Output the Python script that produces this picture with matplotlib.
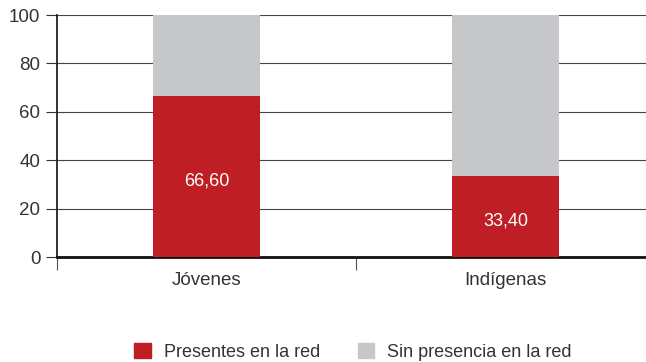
import matplotlib.pyplot as plt
import numpy as np
from matplotlib.patches import Patch

plt.rcParams["font.family"] = ["Liberation Sans", "DejaVu Sans"]

# data
categorias = ["Jóvenes", "Indígenas"]
presentes = [66.60, 33.40]
sin_presencia = [33.40, 66.60]
etiquetas = ["66,60", "33,40"]
series = ["Presentes en la red", "Sin presencia en la red"]

rojo = "#BE1E24"
gris = "#C6C7C9"
texto = "#333333"

fig = plt.figure(figsize=(6.46, 3.62), dpi=100)
ax = fig.add_axes([57 / 646, 105 / 362, 598 / 646, 242 / 362])

x = np.arange(len(categorias))
ancho = 0.36
ax.bar(x, presentes, ancho, color=rojo, zorder=3)
ax.bar(x, sin_presencia, ancho, bottom=presentes, color=gris, zorder=3)

# white value labels in the middle of the red part
for xi, v, lab in zip(x, presentes, etiquetas):
    ax.text(xi, v / 2 - 2, lab, ha="center", va="center", color="white", fontsize=13, zorder=4)

ax.set_xlim(-0.5, 1.5)
ax.set_ylim(0, 100)
ax.set_yticks([0, 20, 40, 60, 80, 100])
ax.yaxis.grid(True, color="#444444", lw=0.8)
ax.set_axisbelow(True)

ax.set_xticks(x)
ax.set_xticklabels(categorias)
ax.set_xticks([-0.5, 0.5], minor=True)
ax.tick_params(axis="x", which="major", length=0, pad=11, labelsize=13.5, labelcolor=texto)
ax.tick_params(axis="x", which="minor", length=9, width=0.8, color="#555555")
ax.tick_params(axis="y", length=8, width=0.8, color="#333333", labelsize=13.5, labelcolor=texto, pad=4)

for s in ["top", "right"]:
    ax.spines[s].set_visible(False)
ax.spines["bottom"].set_linewidth(2)
ax.spines["bottom"].set_color("#111111")
ax.spines["left"].set_linewidth(1.3)
ax.spines["left"].set_color("#222222")

handles = [Patch(color=rojo), Patch(color=gris)]
fig.legend(handles, series, loc="center", bbox_to_anchor=(353 / 646, 10 / 362),
           ncol=2, frameon=False, fontsize=13, labelcolor=texto,
           handlelength=0.9, handleheight=0.9, handletextpad=0.72, columnspacing=2.1)

fig.savefig("out.png", dpi=100)
